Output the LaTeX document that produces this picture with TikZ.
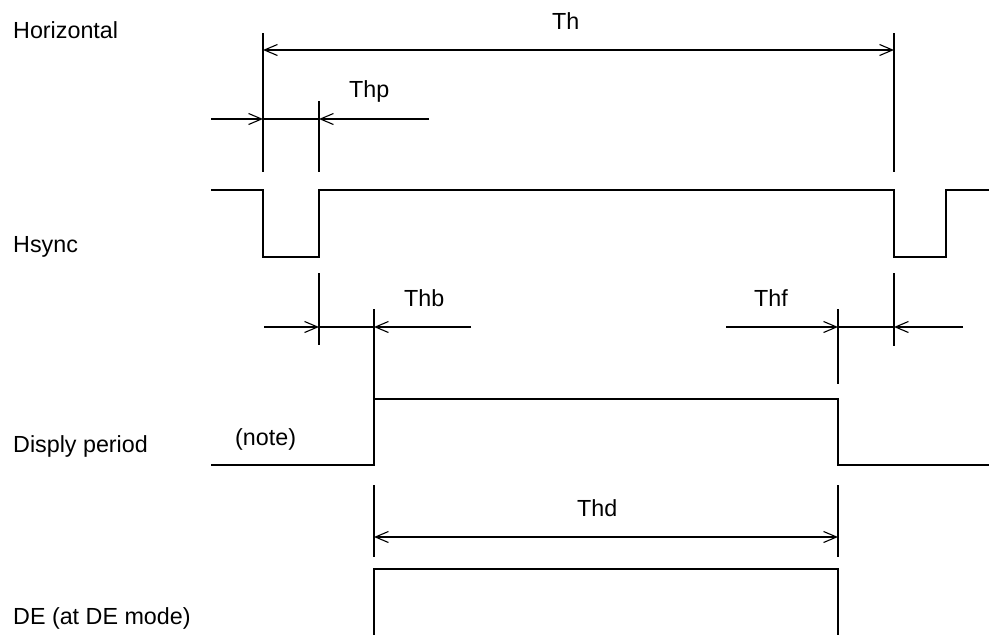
\documentclass[tikz,border=0pt]{standalone}
\usepackage{fontspec}
\setmainfont{Liberation Sans}
\usetikzlibrary{arrows.meta}
\begin{document}
\begin{tikzpicture}[x=1pt,y=-1pt,
  sig/.style={line width=1.4pt, line join=miter},
  dim/.style={line width=1.1pt},
  tip/.style={dim,-{Straight Barb[length=13pt,width=11pt,line width=1.1pt]}},
  bothtip/.style={dim,{Straight Barb[length=13pt,width=11pt,line width=1.1pt]}-{Straight Barb[length=13pt,width=11pt,line width=1.1pt]}},
  lbl/.style={anchor=base west, inner sep=0pt, font=\fontsize{23.3}{28}\selectfont}]
\useasboundingbox (0,0) rectangle (989,635);

% left labels
\node[lbl] (lh)  at (13,38)  {Horizontal};
\node[lbl] (lhs) at (13,252) {Hsync};
\node[lbl] (ldp) at (13,452) {Disply period};
\node[lbl] (lde) at (13,624) {DE (at DE mode)};

% dimension labels
\node[lbl] (tth)  at (552,29)  {Th};
\node[lbl] (tthp) at (349,97)  {Thp};
\node[lbl] (tthb) at (404,306) {Thb};
\node[lbl] (tthf) at (754,306) {Thf};
\node[lbl] (tthd) at (577,516) {Thd};
\node[lbl] (tnote) at (235,445) {(note)};

% coordinates
\coordinate (a0) at (263,33);  \coordinate (a1) at (263,172);
\coordinate (b0) at (894,33);  \coordinate (b1) at (894,172);
\coordinate (c0) at (319,101); \coordinate (c1) at (319,172);

% Th
\draw[dim] (a0) -- (a1);
\draw[dim] (b0) -- (b1);
\draw[bothtip] (263,50) -- (894,50);

% Thp
\draw[dim] (c0) -- (c1);
\draw[tip] (211,119) -- (263,119);
\draw[dim] (263,119) -- (319,119);
\draw[tip] (429,119) -- (319,119);

% Hsync
\draw[sig] (211,190) -- (263,190) -- (263,257) -- (319,257) -- (319,190)
  -- (894,190) -- (894,257) -- (946,257) -- (946,190) -- (989,190);

% Thb
\draw[dim] (319,273) -- (319,345);
\draw[dim] (374,309) -- (374,413);
\draw[tip] (264,327) -- (319,327);
\draw[dim] (319,327) -- (374,327);
\draw[tip] (471,327) -- (374,327);

% Thf
\draw[dim] (838,309) -- (838,384);
\draw[dim] (894,273) -- (894,346);
\draw[tip] (726,327) -- (838,327);
\draw[dim] (838,327) -- (894,327);
\draw[tip] (963,327) -- (894,327);

% Display period
\draw[sig] (211,465) -- (374,465) -- (374,399) -- (838,399) -- (838,465) -- (989,465);

% Thd
\draw[dim] (374,485) -- (374,557);
\draw[dim] (838,485) -- (838,557);
\draw[bothtip] (374,537) -- (838,537);

% DE
\draw[sig] (374,635) -- (374,569) -- (838,569) -- (838,635);
\end{tikzpicture}
\end{document}
